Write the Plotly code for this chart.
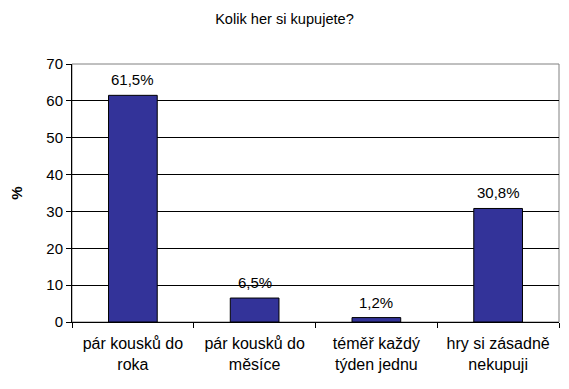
import plotly.graph_objects as go

categories = ["pár kousků do<br>roka", "pár kousků do<br>měsíce", "téměř každý<br>týden jednu", "hry si zásadně<br>nekupuji"]
values = [61.5, 6.5, 1.2, 30.8]
labels = ["61,5%", "6,5%", "1,2%", "30,8%"]
yticks = [0, 10, 20, 30, 40, 50, 60, 70]

font = "Liberation Sans, Arial, sans-serif"

fig = go.Figure(go.Bar(
    x=categories, y=values,
    marker=dict(color="#333399", line=dict(color="black", width=1)),
    width=0.4,
))

for c, v, t in zip(categories, values, labels):
    fig.add_annotation(x=c, y=v, text=t, showarrow=False, yanchor="bottom", yshift=5,
                       font=dict(family=font, size=15, color="black"))

fig.update_layout(
    width=553, height=373,
    margin=dict(l=64, r=2, t=56, b=59, autoexpand=False),
    paper_bgcolor="white", plot_bgcolor="white",
    title=dict(text="Kolik her si kupujete?", x=0.5, xanchor="center", y=0.972, yanchor="middle",
               font=dict(family=font, size=14.6, color="black")),
    showlegend=False,
    shapes=[dict(type="rect", xref="paper", yref="paper", x0=0, x1=1, y0=0, y1=1,
                 line=dict(color="#808080", width=1), layer="below")],
)
fig.update_xaxes(
    type="category", tickson="boundaries", ticks="outside", ticklen=5, tickcolor="black",
    showline=True, linecolor="black", linewidth=1, showgrid=False, automargin=False,
    ticklabelstandoff=7,
    tickfont=dict(family=font, size=16, color="black"),
)
fig.update_yaxes(
    range=[0, 70], tickvals=yticks, ticks="outside", ticklen=5, tickcolor="black",
    showline=True, linecolor="black", linewidth=1, automargin=False,
    showgrid=True, gridcolor="black", gridwidth=1, zeroline=False,
    tickfont=dict(family=font, size=15, color="black"),
    title=dict(text="<b>%</b>", font=dict(family=font, size=15, color="black"), standoff=30),
)

fig.write_html("out.html")
